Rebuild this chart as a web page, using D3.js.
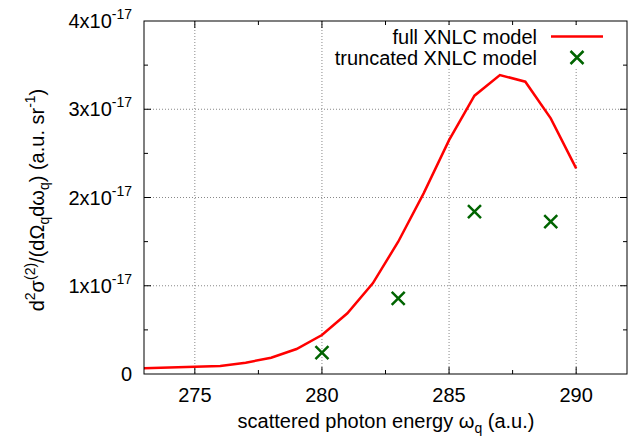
<!DOCTYPE html>
<html><head><meta charset="utf-8">
<script src="https://cdn.jsdelivr.net/npm/d3@7"></script>
<style>
body{margin:0;background:#fff;}
text{font-family:"Liberation Sans",Arial,sans-serif;fill:#000;}
</style></head>
<body>
<svg id="c" width="634" height="437"></svg>
<script>
// data
const fullX = [273,275,276,277,278,279,280,281,282,283,284,285,286,287,288,289,290];
const fullY = [0.065,0.083,0.091,0.128,0.185,0.283,0.442,0.688,1.028,1.499,2.047,2.65,3.154,3.388,3.312,2.897,2.33]; // x1e-17
const truncX = [280,283,286,289];
const truncY = [0.242,0.857,1.839,1.726]; // x1e-17
const xTicks = [275,280,285,290];
const yTicks = [0,1,2,3,4];
const legendLabels = ["full XNLC model","truncated XNLC model"];

const svg = d3.select("#c");
const L=144,R=627,T=21,B=374;
const FS=20, SS=14;
const x = d3.scaleLinear().domain([273,292]).range([L,R]);
const y = d3.scaleLinear().domain([0,4]).range([B,T]);

// grid
const grid = svg.append("g").attr("stroke","#888").attr("stroke-width",1).attr("stroke-dasharray","1,2");
xTicks.forEach(v=>grid.append("line").attr("x1",x(v)).attr("x2",x(v)).attr("y1",T).attr("y2",B));
[1,2,3].forEach(v=>grid.append("line").attr("x1",L).attr("x2",R).attr("y1",y(v)).attr("y2",y(v)));

// ticks (all sides, mirrored)
const tk = svg.append("g").attr("stroke","#000").attr("stroke-width",1);
d3.range(272.5,292.01,2.5).filter(v=>v>273&&v<292).forEach(v=>{
  const len = (v%5===0)?7:4;
  tk.append("line").attr("x1",x(v)).attr("x2",x(v)).attr("y1",B).attr("y2",B-len);
  tk.append("line").attr("x1",x(v)).attr("x2",x(v)).attr("y1",T).attr("y2",T+len);
});
d3.range(0,4.01,0.5).filter(v=>v>0&&v<4).forEach(v=>{
  const len = (Math.abs(v-Math.round(v))<1e-9)?7:4;
  tk.append("line").attr("x1",L).attr("x2",L+len).attr("y1",y(v)).attr("y2",y(v));
  tk.append("line").attr("x1",R).attr("x2",R-len).attr("y1",y(v)).attr("y2",y(v));
});

// x tick labels
xTicks.forEach(v=>svg.append("text").attr("x",x(v)).attr("y",402).attr("text-anchor","middle").attr("font-size",FS).text(v));
// y tick labels
yTicks.forEach(v=>{
  const t = svg.append("text").attr("x",132).attr("y",y(v)+7).attr("text-anchor","end").attr("font-size",FS);
  if(v===0){t.text("0");}
  else{
    t.append("tspan").text(v+"x10");
    t.append("tspan").attr("font-size",SS).attr("dy",-9).text("-17");
  }
});

// axis labels
const xl = svg.append("text").attr("x",386).attr("y",428).attr("text-anchor","middle").attr("font-size",FS);
xl.append("tspan").text("scattered photon energy ω");
xl.append("tspan").attr("font-size",SS).attr("dy",5).text("q");
xl.append("tspan").attr("dy",-5).text(" (a.u.)");

const yl = svg.append("text").attr("transform","translate(44,200) rotate(-90)").attr("text-anchor","middle").attr("font-size",FS);
yl.append("tspan").text("d");
yl.append("tspan").attr("font-size",SS).attr("dy",-9).text("2");
yl.append("tspan").attr("dy",9).text("σ");
yl.append("tspan").attr("font-size",SS).attr("dy",-9).text("(2)");
yl.append("tspan").attr("dy",9).text("/(dΩ");
yl.append("tspan").attr("font-size",SS).attr("dy",5).text("q");
yl.append("tspan").attr("dy",-5).text("dω");
yl.append("tspan").attr("font-size",SS).attr("dy",5).text("q");
yl.append("tspan").attr("dy",-5).text(") (a.u. sr");
yl.append("tspan").attr("font-size",SS).attr("dy",-9).text("-1");
yl.append("tspan").attr("dy",9).text(")");

// legend background
svg.append("rect").attr("x",333).attr("y",25).attr("width",280).attr("height",42).attr("fill","#fff");

// line
const line = d3.line().x((d,i)=>x(fullX[i])).y(d=>y(d));
svg.append("path").datum(fullY).attr("d",line).attr("fill","none").attr("stroke","#ff0000").attr("stroke-width",2.5).attr("stroke-linejoin","miter");

// markers
const s=6.5;
function cross(g,cx,cy){
  g.append("path").attr("d",`M${cx-s},${cy-s}L${cx+s},${cy+s}M${cx-s},${cy+s}L${cx+s},${cy-s}`)
   .attr("stroke","#006400").attr("stroke-width",2.5).attr("fill","none");
}
const mk = svg.append("g");
truncX.forEach((v,i)=>cross(mk,x(v),y(truncY[i])));

// legend
svg.append("text").attr("x",537).attr("y",44).attr("text-anchor","end").attr("font-size",FS).text(legendLabels[0]);
svg.append("text").attr("x",537).attr("y",65).attr("text-anchor","end").attr("font-size",FS).text(legendLabels[1]);
svg.append("line").attr("x1",551).attr("x2",603).attr("y1",36.5).attr("y2",36.5).attr("stroke","#ff0000").attr("stroke-width",2.5);
cross(svg,577,57.5);

// frame
svg.append("rect").attr("x",L).attr("y",T).attr("width",R-L).attr("height",B-T).attr("fill","none").attr("stroke","#000").attr("stroke-width",1);
</script>
</body></html>
